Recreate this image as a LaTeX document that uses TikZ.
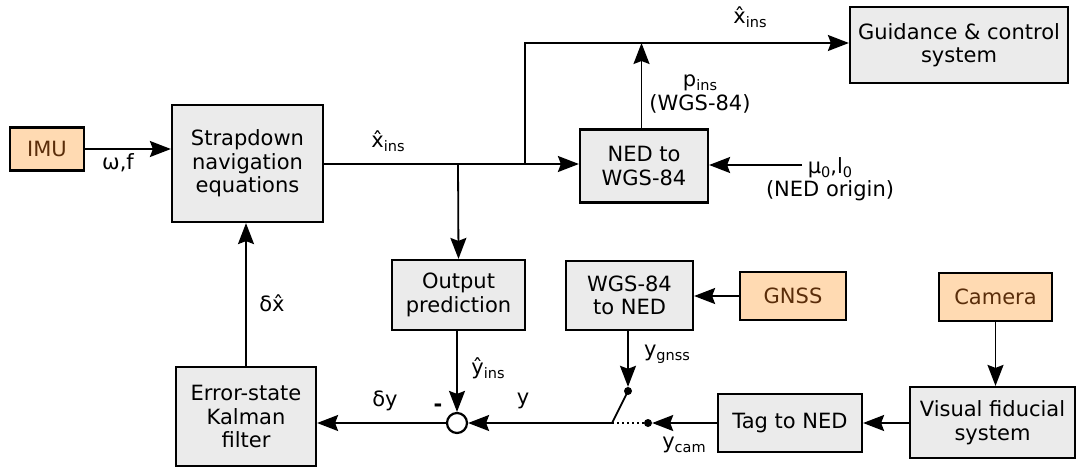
\documentclass[tikz,border=0pt]{standalone}
\usepackage{fontspec}
\setmainfont{DejaVu Sans}
\usetikzlibrary{arrows.meta}
\definecolor{boxgray}{RGB}{235,235,235}
\definecolor{boxorange}{RGB}{255,218,178}
\definecolor{txtbrown}{RGB}{90,45,10}
\newcommand\lsub[1]{\raisebox{-0.35ex}{\fontsize{14.5}{14.5}\selectfont #1}}
\begin{document}
\begin{tikzpicture}[x=1pt,y=-1pt,
  font=\fontsize{21}{23.5}\selectfont,
  blk/.style={draw,line width=2.2pt,fill=boxgray,align=center,inner sep=0pt},
  src/.style={draw,line width=2.2pt,fill=boxorange,text=txtbrown,align=center,inner sep=0pt},
  conn/.style={line width=1.8pt,-{Stealth[length=21pt,width=16pt,inset=3pt]}},
  wire/.style={line width=1.8pt},
  lbl/.style={inner sep=0pt,align=center},
  dotn/.style={circle,fill=black,inner sep=0pt,minimum size=8pt}]
\useasboundingbox (0,0) rectangle (1078,472);
% blocks
\node[src,minimum width=74pt,minimum height=43pt] (imu) at (47,149) {IMU};
\node[blk,minimum width=151pt,minimum height=117pt] (sd) at (247.5,163.5) {Strapdown\\navigation\\equations};
\node[blk,minimum width=218pt,minimum height=76pt] (guid) at (959,45) {Guidance \& control\\system};
\node[blk,minimum width=128pt,minimum height=73pt] (ned) at (644,166) {NED to\\WGS-84};
\node[blk,minimum width=133pt,minimum height=70pt] (outp) at (458.5,295) {Output\\prediction};
\node[blk,minimum width=127pt,minimum height=69pt] (wgs) at (629.5,295.5) {WGS-84\\to NED};
\node[src,minimum width=106pt,minimum height=48pt] (gnss) at (793,296) {GNSS};
\node[src,minimum width=113pt,minimum height=48pt] (cam) at (995.5,297) {Camera};
\node[blk,minimum width=165pt,minimum height=71pt] (vis) at (992.5,422.5) {Visual fiducial\\system};
\node[blk,minimum width=144pt,minimum height=58pt] (tag) at (790,423) {Tag to NED};
\node[blk,minimum width=140pt,minimum height=99pt] (kal) at (246,416.5) {Error-state\\Kalman\\filter};
\node[circle,draw,line width=2.2pt,fill=white,minimum size=20pt,inner sep=0pt] (sum) at (457,423) {};
% coordinates
\coordinate (j1) at (458,164);
\coordinate (j2) at (525,164);
\coordinate (top) at (525,43);
\coordinate (nedtop) at (641.5,43);
\coordinate (muin) at (802,165);
\node[dotn] (dg) at (628,391) {};
\node[dotn] (dc) at (648,423) {};
\coordinate (sw) at (612,423);
% connectors
\draw[conn] (imu.east) -- (sd.west |- imu.east);
\draw[conn] (sd.east |- j1) -- (ned.west |- j1);
\draw[conn] (j1) -- (outp.north);
\draw[conn] (j2) -- (top) -- (guid.west |- top);
\draw[conn] (ned.north -| nedtop) -- (nedtop);
\draw[conn] (muin) -- (ned.east |- muin);
\draw[conn] (gnss.west) -- (wgs.east |- gnss.west);
\draw[conn] (cam.south) -- (cam.south |- vis.north);
\draw[conn] (vis.west |- tag.east) -- (tag.east);
\draw[conn] (tag.west) -- (dc);
\draw[conn] (wgs.south -| dg) -- (dg);
\draw[wire] (sw) -- (dg.center);
\draw[line width=1.3pt,dash pattern=on 1.5pt off 3.5pt] (sw) -- (dc);
\draw[conn] (sw) -- (sum.east);
\draw[conn] (outp.south -| sum) -- (sum.north);
\draw[conn] (sum.west) -- (kal.east |- sum.west);
\draw[conn] (kal.north) -- (sd.south -| kal.north);
% labels
\node[lbl] (lwf) at (118,163) {ω,f};
\node[lbl] (lx1) at (388,141) {x̂\lsub{ins}};
\node[lbl] (lx2) at (750,17) {x̂\lsub{ins}};
\node[lbl] (lp) at (700,94) {p\lsub{ins}\\(WGS-84)};
\node[lbl] (lmu) at (830,179) {μ\lsub{0},l\lsub{0}\\(NED origin)};
\node[lbl] (ly) at (488,368) {ŷ\lsub{ins}};
\node[lbl] (lg) at (667,354) {y\lsub{gnss}};
\node[lbl] (lc) at (684,445) {y\lsub{cam}};
\node[lbl] (lyy) at (523,401) {y};
\node[lbl] (ldy) at (385,401) {δy};
\node[lbl] (lm) at (438,408) {\textbf{-}};
\node[lbl] (ldx) at (272,303) {δx̂};
\end{tikzpicture}
\end{document}
